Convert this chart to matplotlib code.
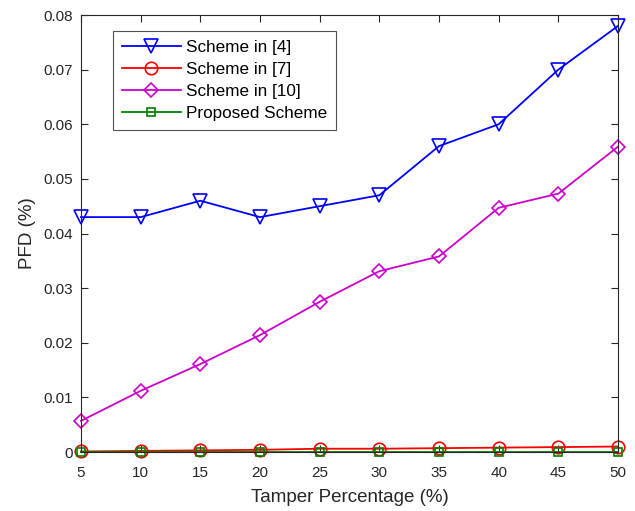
import matplotlib
matplotlib.use("Agg")
import matplotlib.pyplot as plt

plt.rcParams['font.family'] = ['Liberation Sans', 'DejaVu Sans']

x = [5, 10, 15, 20, 25, 30, 35, 40, 45, 50]
scheme4 = [0.043, 0.043, 0.046, 0.043, 0.045, 0.047, 0.056, 0.060, 0.070, 0.078]
scheme7 = [0.0001, 0.0002, 0.0003, 0.0004, 0.0006, 0.0006, 0.0007, 0.0008, 0.0009, 0.001]
scheme10 = [0.0057, 0.0112, 0.0161, 0.0214, 0.0275, 0.0331, 0.0358, 0.0447, 0.0473, 0.0559]
proposed = [0, 0, 0, 0, 0, 0, 0, 0, 0, 0]
labels = ['Scheme in [4]', 'Scheme in [7]', 'Scheme in [10]', 'Proposed Scheme']

W, H = 635, 511
fig = plt.figure(figsize=(W / 100, H / 100), dpi=100)
L, R, T, B = 81, 618, 15, 452
ax = fig.add_axes([L / W, 1 - B / H, (R - L) / W, (B - T) / H])

kw = dict(mfc='none', mew=1.2, lw=1.3, clip_on=False)
ax.plot(x, scheme4, color='#0000ff', marker='v', markersize=10, label=labels[0], **kw)
ax.plot(x, scheme7, color='#ff0000', marker='o', markersize=9, label=labels[1], **kw)
ax.plot(x, scheme10, color='#cc00cc', marker='D', markersize=7.5, label=labels[2], **kw)
ax.plot(x, proposed, color='#008000', marker='s', markersize=5.5, label=labels[3], **kw)

ax.set_xlim(5, 50)
ax.set_ylim(0, 0.08)
ax.set_xticks(x)
ax.set_yticks([0, 0.01, 0.02, 0.03, 0.04, 0.05, 0.06, 0.07, 0.08])
ax.set_yticklabels(['0', '0.01', '0.02', '0.03', '0.04', '0.05', '0.06', '0.07', '0.08'])
ax.tick_params(direction='in', top=True, right=True, labelsize=11, length=5, colors='#262626')
ax.tick_params(axis='x', pad=10)
ax.tick_params(axis='y', pad=6)
for s in ax.spines.values():
    s.set_color('#262626')
    s.set_linewidth(0.8)
ax.set_xlabel('Tamper Percentage (%)', fontsize=13.5, color='#262626')
ax.set_ylabel('PFD (%)', fontsize=13.5, color='#262626')
ax.xaxis.set_label_coords(0.5, -(497 - B) / (B - T), transform=ax.transAxes)
ax.yaxis.set_label_coords(-(L - 27) / (R - L), 0.5, transform=ax.transAxes)
ax.xaxis.label.set_va('center')
ax.yaxis.label.set_va('center')

leg = ax.legend(loc='upper left', bbox_to_anchor=((113 - L) / (R - L), (B - 31) / (B - T)),
                fontsize=12.3, frameon=True, fancybox=False, edgecolor='#262626',
                handlelength=3.5, borderpad=0.5, labelspacing=0.42, handletextpad=0.3,
                borderaxespad=0)
leg.get_frame().set_linewidth(0.8)

fig.savefig('out.png', dpi=100)
